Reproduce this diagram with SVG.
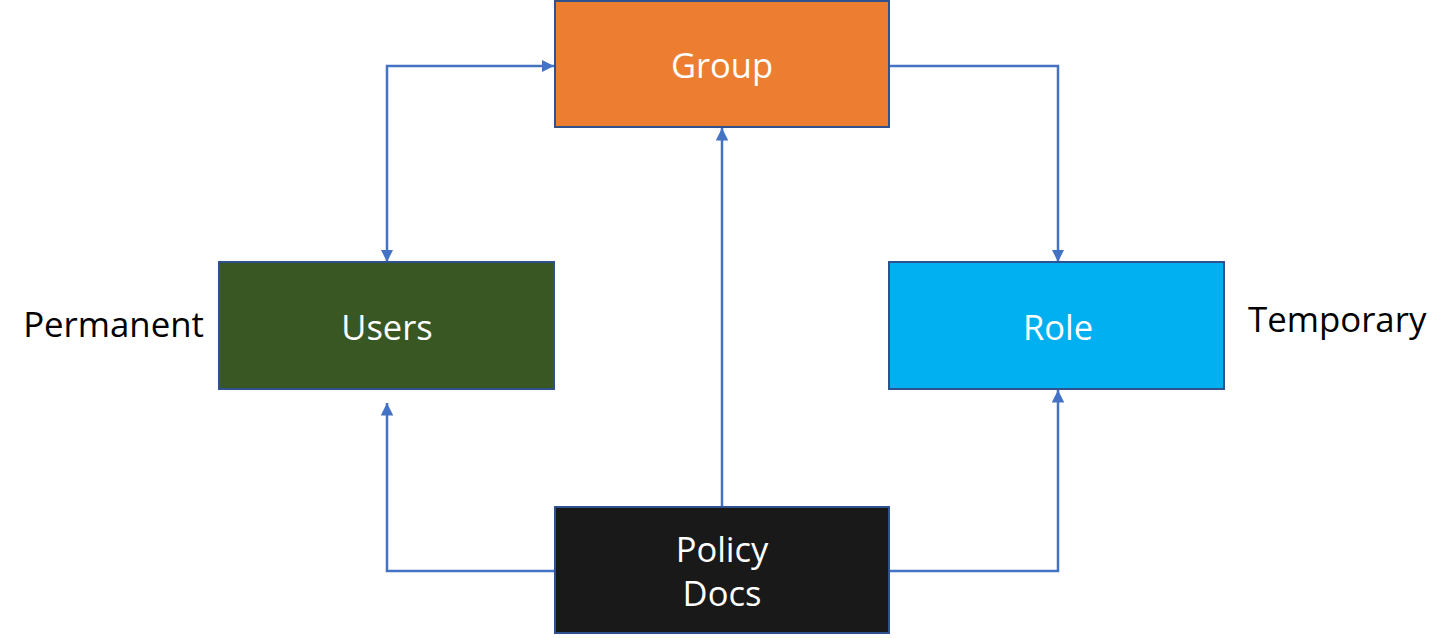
<svg xmlns="http://www.w3.org/2000/svg" width="1450" height="638" viewBox="0 0 1450 638">
<style>
.box{stroke:#2F528F;stroke-width:2}
.lbl{font-family:"Open Sans","Noto Sans",sans-serif;font-size:34.5px;fill:#fff;text-anchor:middle}
.side{font-family:"Open Sans","Noto Sans",sans-serif;font-size:34.8px;fill:#000}
.c{fill:none;stroke:#4472C4;stroke-width:2.5}
</style>
<defs>
<marker id="ah" viewBox="0 0 10 10" refX="10" refY="5" markerWidth="5" markerHeight="5" orient="auto-start-reverse" markerUnits="strokeWidth">
<path d="M0,0 L10,5 L0,10 z" fill="#4472C4"/>
</marker>
</defs>
<rect width="1450" height="638" fill="#fff"/>
<g id="connectors">
<path class="c" d="M387,262 V66 H554" marker-start="url(#ah)" marker-end="url(#ah)"/>
<path class="c" d="M890,66 H1058 V262" marker-end="url(#ah)"/>
<path class="c" d="M722,506 V128" marker-end="url(#ah)"/>
<path class="c" d="M554,571 H387 V403" marker-end="url(#ah)"/>
<path class="c" d="M890,571 H1058 V390" marker-end="url(#ah)"/>
</g>
<g id="group">
<rect class="box" x="555" y="1" width="334" height="126" fill="#ED7D31"/>
<text class="lbl" x="722" y="78">Group</text>
</g>
<g id="users">
<rect class="box" x="219" y="262" width="335" height="127" fill="#385723"/>
<text class="lbl" x="387" y="340">Users</text>
</g>
<g id="role">
<rect class="box" x="889" y="262" width="335" height="127" fill="#00B0F0"/>
<text class="lbl" x="1058" y="340">Role</text>
</g>
<g id="policy">
<rect class="box" x="555" y="507" width="334" height="126" fill="#191919"/>
<text class="lbl" x="722" y="562">Policy</text>
<text class="lbl" x="722" y="606">Docs</text>
</g>
<g id="permanent">
<text class="side" x="204" y="337" text-anchor="end">Permanent</text>
</g>
<g id="temporary">
<text class="side" x="1248" y="332">Temporary</text>
</g>
</svg>
